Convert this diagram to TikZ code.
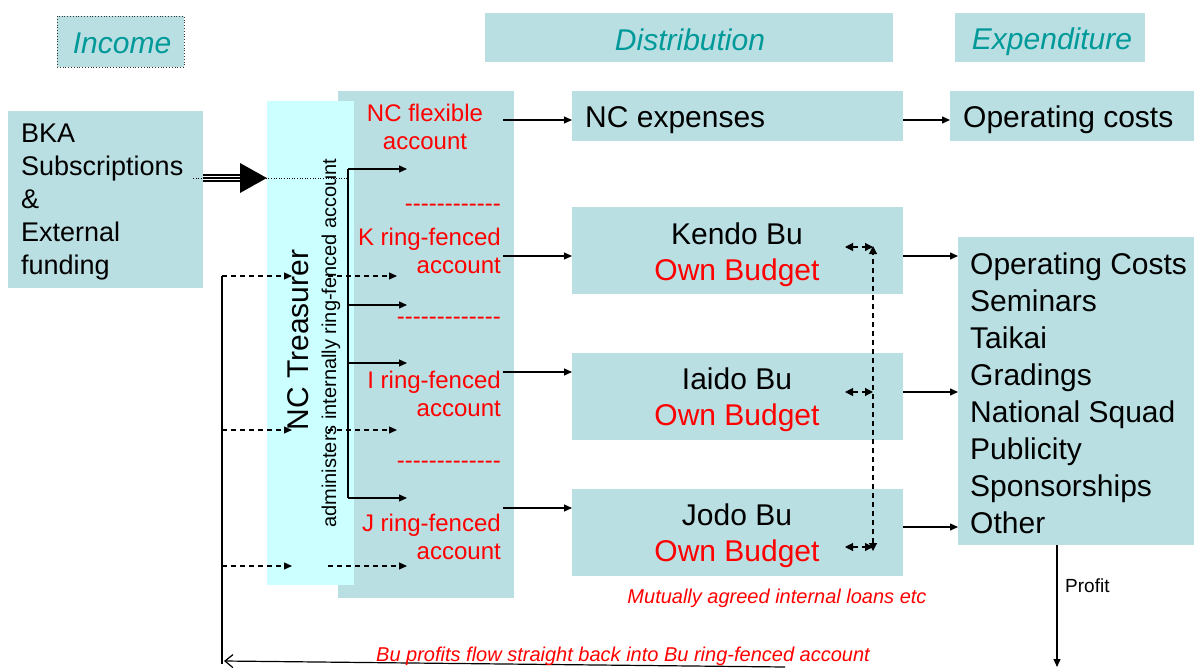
\documentclass[tikz,border=0pt]{standalone}
\usepackage{fontspec}
\setmainfont{Liberation Sans}
\usetikzlibrary{arrows.meta}
\definecolor{tealbg}{RGB}{186,223,226}
\definecolor{cyanbg}{RGB}{204,255,255}
\definecolor{tealtxt}{RGB}{0,153,153}
\definecolor{redtxt}{RGB}{255,0,0}
\begin{document}
\begin{tikzpicture}[x=1pt,y=-1pt,
  box/.style={fill=tealbg, draw=none, inner sep=0pt, outer sep=0pt},
  hdr/.style={font=\fontsize{30}{36}\selectfont\itshape, text=tealtxt, inner sep=0pt},
  big/.style={font=\fontsize{30}{36}\selectfont, inner sep=0pt},
  acct/.style={font=\fontsize{24}{28}\selectfont, text=redtxt, inner sep=0pt},
  note/.style={font=\fontsize{20}{24}\selectfont\itshape, text=redtxt, inner sep=0pt},
  arr/.style={-{Triangle[length=8pt,width=7pt]}, line width=1.1pt},
  darr/.style={-{Triangle[length=8pt,width=7pt]}, line width=1.1pt, dash pattern=on 5pt off 4pt},
  loan/.style={{Triangle[length=8pt,width=8pt]}-{Triangle[length=8pt,width=8pt]}, line width=1.1pt, dash pattern=on 5pt off 4pt},
]
\useasboundingbox (0,0) rectangle (1194,669);

% header boxes
\node[box, draw=black!80, dotted, line width=0.8pt, minimum width=127pt, minimum height=51pt] (income) at (120.5,41.5) {};
\node[hdr] (incomet) at (122,43) {Income};
\node[box, minimum width=408pt, minimum height=49pt] (dist) at (689,37.5) {};
\node[hdr] (distt) at (690,40) {Distribution};
\node[box, minimum width=190pt, minimum height=49pt] (exp) at (1050,37.5) {};
\node[hdr] (expt) at (1052,42) {Expenditure};

% income source
\node[box, minimum width=195pt, minimum height=177pt] (bka) at (105.5,199.5) {};
\node[anchor=west, align=left, inner sep=0pt, font=\fontsize{27}{33}\selectfont] (bkat) at (21,202) {BKA\\Subscriptions\\\&\\External\\funding};

% accounts and treasurer
\node[box, minimum width=176pt, minimum height=507pt] (acc) at (426,344.5) {};
\node[fill=cyanbg, inner sep=0pt, minimum width=87pt, minimum height=484pt] (treas) at (310.5,343) {};
\node[big, rotate=90] (treast) at (298,340) {NC Treasurer};
\node[rotate=90, inner sep=0pt, font=\fontsize{20}{24}\selectfont] (admin) at (331,343) {administers internally ring-fenced account};

\node[acct, align=center] (nct) at (425,127) {NC flexible\\account};
\node[acct, align=right, anchor=east] (kt) at (501,250.5) {K ring-fenced\\account};
\node[acct, align=right, anchor=east] (it) at (501,393.5) {I ring-fenced\\account};
\node[acct, align=right, anchor=east] (jt) at (501,536.5) {J ring-fenced\\account};
\node[acct, anchor=east] (sep1) at (501,208) {-{}-{}-{}-{}-{}-{}-{}-{}-{}-{}-{}-};
\node[acct, anchor=east] (sep2) at (501,321) {-{}-{}-{}-{}-{}-{}-{}-{}-{}-{}-{}-{}-};
\node[acct, anchor=east] (sep3) at (501,465) {-{}-{}-{}-{}-{}-{}-{}-{}-{}-{}-{}-{}-};

% distribution boxes
\node[box, minimum width=331pt, minimum height=50pt] (nce) at (737.5,116) {};
\node[big, anchor=west] (ncet) at (585,120) {NC expenses};
\node[box, minimum width=331pt, minimum height=87pt] (kendo) at (737.5,250.5) {};
\node[big, align=center, font=\fontsize{30}{36}\selectfont] (kendot) at (737,255) {Kendo Bu\\\textcolor{redtxt}{Own Budget}};
\node[box, minimum width=331pt, minimum height=87pt] (iaido) at (737.5,396.5) {};
\node[big, align=center, font=\fontsize{30}{36}\selectfont] (iaidot) at (737,400) {Iaido Bu\\\textcolor{redtxt}{Own Budget}};
\node[box, minimum width=331pt, minimum height=87pt] (jodo) at (737.5,532.5) {};
\node[big, align=center, font=\fontsize{30}{36}\selectfont] (jodot) at (737,536) {Jodo Bu\\\textcolor{redtxt}{Own Budget}};

% expenditure boxes
\node[box, minimum width=244pt, minimum height=50pt] (opc) at (1072,116) {};
\node[big, anchor=west] (opct) at (963,120) {Operating costs};
\node[box, minimum width=236pt, minimum height=308pt] (list) at (1076,391) {};
\node[anchor=west, align=left, inner sep=0pt, font=\fontsize{30}{37}\selectfont] (listt) at (970,393) {Operating Costs\\Seminars\\Taikai\\Gradings\\National Squad\\Publicity\\Sponsorships\\Other};

% big income arrow
\draw[dotted, line width=0.6pt] (bka.east |- 0,178) ++(-10,0) coordinate (dotL) -- (348,178) coordinate (dotR);
\foreach \yy in {175,178,181} \draw[line width=1.3pt] (bka.east |- 0,\yy) -- (241,\yy);
\fill (240,163) -- (treas.west |- 0,178) -- (240,193) -- cycle;

% treasurer distribution bus
\coordinate (busT) at (348,169);
\coordinate (busB) at (348,498);
\draw[line width=1.1pt] (busT) -- (busB);
\coordinate (b1) at (407,169);
\coordinate (b2) at (407,305);
\coordinate (b3) at (407,363);
\coordinate (b4) at (407,498);
\draw[arr] (busT) -- (b1);
\draw[arr] (busT |- b2) -- (b2);
\draw[arr] (busT |- b3) -- (b3);
\draw[arr] (busB) -- (b4);

% profit return line and dashed arrows
\coordinate (rT) at (222,276);
\coordinate (rB) at (222,664);
\draw[line width=1.1pt] (rT) -- (rB);
\coordinate (d1) at (292,276); \coordinate (e1s) at (328,276); \coordinate (e1) at (397,276);
\coordinate (d2) at (292,430); \coordinate (e2s) at (328,430); \coordinate (e2) at (397,430);
\coordinate (d3) at (292,566); \coordinate (e3s) at (328,566); \coordinate (e3) at (407,566);
\draw[darr] (rT) -- (d1);
\draw[darr] (e1s) -- (e1);
\draw[darr] (rT |- d2) -- (d2);
\draw[darr] (e2s) -- (e2);
\draw[darr] (rT |- d3) -- (d3);
\draw[darr] (e3s) -- (e3);

\coordinate (retR) at (785,667);
\coordinate (retL) at (224,661);
\draw[-{Straight Barb[length=8pt,width=13pt]}, line width=1.2pt] (retR) -- (retL);
\node[note] (bup) at (623,656) {Bu profits flow straight back into Bu ring-fenced account};

% account to budget arrows
\coordinate (a0) at (503,120);
\draw[arr] (a0) -- (nce.west |- a0);
\draw[arr] (kt.east |- 0,256) ++(2,0) -- (kendo.west |- 0,256);
\draw[arr] (it.east |- 0,372) ++(2,0) -- (iaido.west |- 0,372);
\draw[arr] (jt.east |- 0,508) ++(2,0) -- (jodo.west |- 0,508);

% budget to expenditure arrows
\draw[arr] (nce.east |- 0,120) -- (opc.west |- 0,120);
\draw[arr] (kendo.east |- 0,256) -- (list.west |- 0,256);
\draw[arr] (iaido.east |- 0,392) -- (list.west |- 0,392);
\draw[arr] (jodo.east |- 0,527) -- (list.west |- 0,527);

% internal loans
\coordinate (lT) at (873,246);
\coordinate (lB) at (873,551);
\draw[loan] (lB) -- (lT);
\coordinate (k1) at (845,247); \coordinate (k2) at (873,247);
\coordinate (i1) at (845,392); \coordinate (i2) at (873,392);
\coordinate (j1) at (845,547); \coordinate (j2) at (873,547);
\draw[loan] (k1) -- (k2);
\draw[loan] (i1) -- (i2);
\draw[loan] (j1) -- (j2);
\node[note] (mut) at (777,598) {Mutually agreed internal loans etc};

% profit
\coordinate (pf) at (1057,667);
\draw[arr] (list.south -| pf) -- (pf);
\node[inner sep=0pt, font=\fontsize{19}{22}\selectfont, anchor=west] (pft) at (1065,586) {Profit};
\end{tikzpicture}
\end{document}
